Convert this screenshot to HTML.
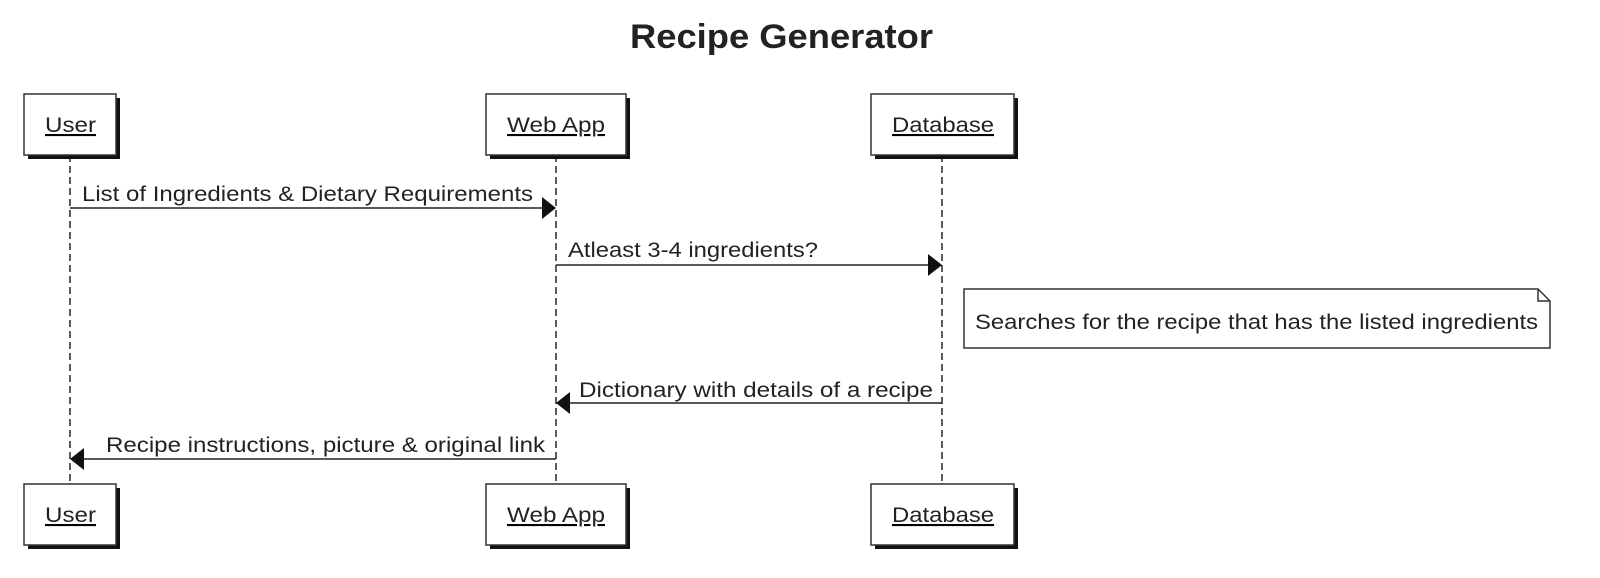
<!DOCTYPE html>
<html><head><meta charset="utf-8"><style>
html,body{margin:0;padding:0;background:#fff;}
svg{display:block;}
text{font-family:"Liberation Sans",sans-serif;fill:#222;}
</style></head><body>
<svg width="1600" height="578" xmlns="http://www.w3.org/2000/svg">
<text x="630" y="48" font-size="34" font-weight="bold" textLength="303" lengthAdjust="spacingAndGlyphs">Recipe Generator</text>
<g stroke="#333" stroke-width="1.6" stroke-dasharray="7,4">
<line x1="70" y1="155" x2="70" y2="484"/>
<line x1="556" y1="155" x2="556" y2="484"/>
<line x1="942" y1="155" x2="942" y2="484"/>
</g>
<g fill="#111">
<rect x="28" y="98" width="92" height="61"/><rect x="490" y="98" width="140" height="61"/><rect x="875" y="98" width="143" height="61"/>
<rect x="28" y="488" width="92" height="61"/><rect x="490" y="488" width="140" height="61"/><rect x="875" y="488" width="143" height="61"/>
</g>
<g fill="#fff" stroke="#333" stroke-width="1.5">
<rect x="24" y="94" width="92" height="61"/><rect x="486" y="94" width="140" height="61"/><rect x="871" y="94" width="143" height="61"/>
<rect x="24" y="484" width="92" height="61"/><rect x="486" y="484" width="140" height="61"/><rect x="871" y="484" width="143" height="61"/>
</g>
<g font-size="21" text-decoration="underline">
<text x="45" y="132" textLength="51" lengthAdjust="spacingAndGlyphs">User</text><text x="507" y="132" textLength="98" lengthAdjust="spacingAndGlyphs">Web App</text><text x="892" y="132" textLength="102" lengthAdjust="spacingAndGlyphs">Database</text>
<text x="45" y="522" textLength="51" lengthAdjust="spacingAndGlyphs">User</text><text x="507" y="522" textLength="98" lengthAdjust="spacingAndGlyphs">Web App</text><text x="892" y="522" textLength="102" lengthAdjust="spacingAndGlyphs">Database</text>
</g>
<g stroke="#222" stroke-width="1.6">
<line x1="70" y1="208" x2="543" y2="208"/>
<line x1="556" y1="265" x2="929" y2="265"/>
<line x1="942" y1="403" x2="569" y2="403"/>
<line x1="556" y1="459" x2="83" y2="459"/>
</g>
<g fill="#111">
<polygon points="556,208 542,197 542,219"/>
<polygon points="942,265 928,254 928,276"/>
<polygon points="556,403 570,392 570,414"/>
<polygon points="70,459 84,448 84,470"/>
</g>
<g font-size="21">
<text x="82" y="201" textLength="451" lengthAdjust="spacingAndGlyphs">List of Ingredients &amp; Dietary Requirements</text>
<text x="568" y="257" textLength="250" lengthAdjust="spacingAndGlyphs">Atleast 3-4 ingredients?</text>
<text x="579" y="397" textLength="354" lengthAdjust="spacingAndGlyphs">Dictionary with details of a recipe</text>
<text x="106" y="452" textLength="439" lengthAdjust="spacingAndGlyphs">Recipe instructions, picture &amp; original link</text>
</g>
<path d="M964,289 H1538 L1550,301 V348 H964 Z M1538,289 V301 H1550" fill="#fff" stroke="#333" stroke-width="1.5"/>
<text x="975" y="329" font-size="21" textLength="563" lengthAdjust="spacingAndGlyphs">Searches for the recipe that has the listed ingredients</text>
</svg>
</body></html>
